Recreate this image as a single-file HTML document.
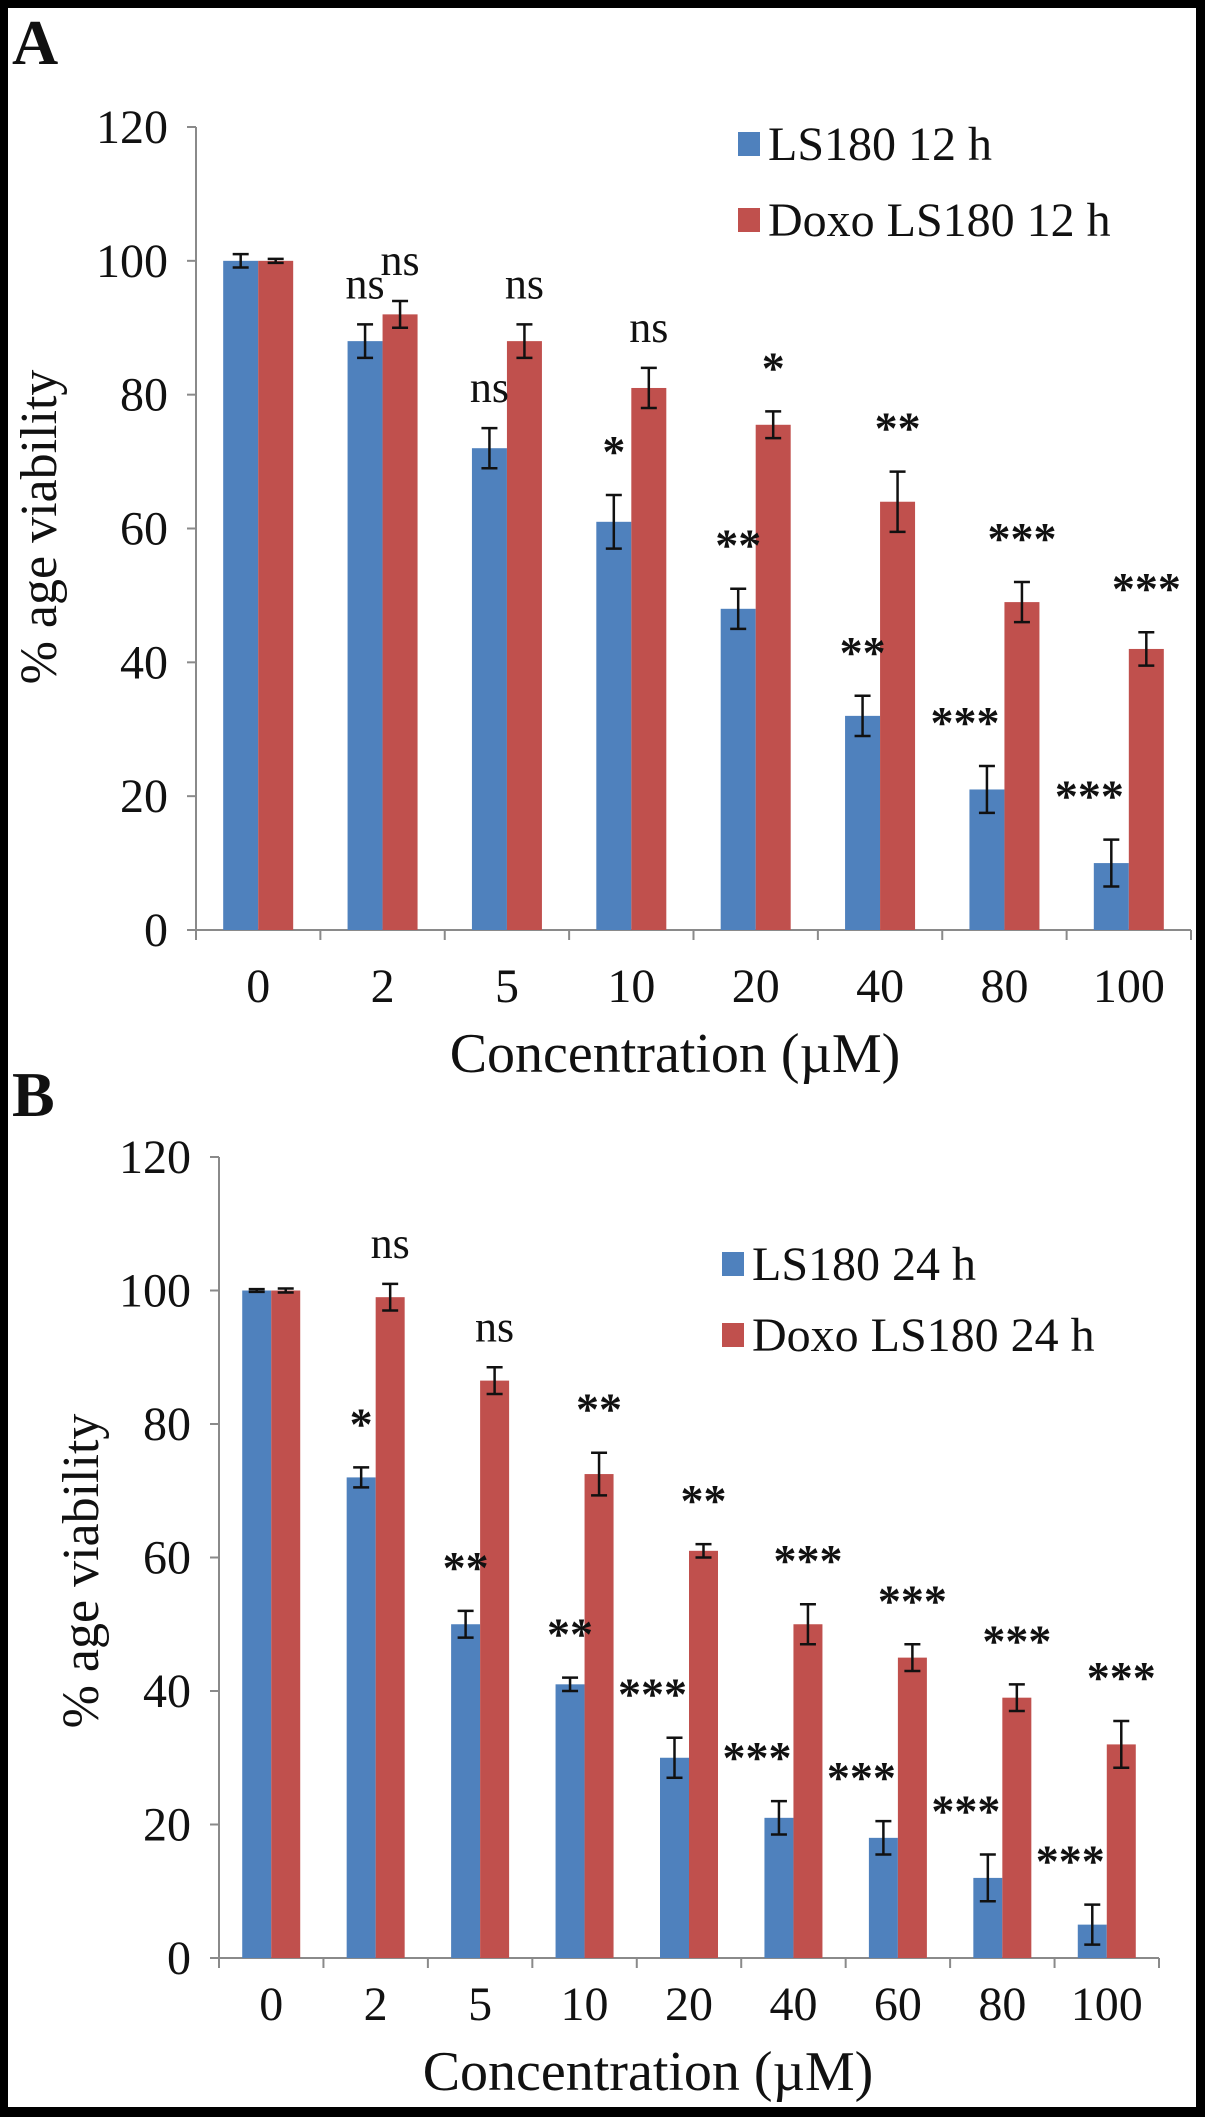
<!DOCTYPE html>
<html><head><meta charset="utf-8"><style>
html,body{margin:0;padding:0;background:#000}
svg{display:block}
text{font-family:"Liberation Serif",serif;fill:#111}
</style></head><body>
<svg id="fig" width="1205" height="2117" viewBox="0 0 1205 2117" xmlns="http://www.w3.org/2000/svg">
<rect x="0" y="0" width="1205" height="2117" fill="#000"/>
<rect x="8" y="8" width="1188" height="2099" fill="#fff"/>
</svg>
<script>
// Panel A data
const catsA = ["0","2","5","10","20","40","80","100"];
const blueA = [100, 88, 72, 61, 48, 32, 21, 10];
const blueErrA = [1, 2.5, 3, 4, 3, 3, 3.5, 3.5];
const redA = [100, 92, 88, 81, 75.5, 64, 49, 42];
const redErrA = [0.3, 2, 2.5, 3, 2, 4.5, 3, 2.5];
const blueSigA = ["", "ns", "ns", "*", "**", "**", "***", "***"];
const redSigA = ["", "ns", "ns", "ns", "*", "**", "***", "***"];
// Panel B data
const catsB = ["0","2","5","10","20","40","60","80","100"];
const blueB = [100, 72, 50, 41, 30, 21, 18, 12, 5];
const blueErrB = [0.2, 1.5, 2, 1, 3, 2.5, 2.5, 3.5, 3];
const redB = [100, 99, 86.5, 72.5, 61, 50, 45, 39, 32];
const redErrB = [0.3, 2, 2, 3.2, 1, 3, 2, 2, 3.5];
const blueSigB = ["", "*", "**", "**", "***", "***", "***", "***", "***"];
const redSigB = ["", "ns", "ns", "**", "**", "***", "***", "***", "***"];
const yTicks = [0, 20, 40, 60, 80, 100, 120];

const NS = "http://www.w3.org/2000/svg";
const svg = document.getElementById('fig');
function mk(tag, attrs, parent) {
  const e = document.createElementNS(NS, tag);
  for (const k in attrs) e.setAttribute(k, attrs[k]);
  (parent || svg).appendChild(e);
  return e;
}

function panel(cfg) {
  const g = mk('g', {});
  
  
  const y = v => cfg.y0 - (v / 120) * (cfg.y0 - cfg.y120);
  const n = cfg.cats.length;
  const cw = (cfg.xr - cfg.xl) / n;
  const xc = i => cfg.xl + i * cw;

  const L = mk('text', {x: 12, y: cfg.letterY, 'font-size': 64, 'font-weight': 'bold', fill: '#000'}, g);
  L.textContent = cfg.letter;
  
  

  const ya = mk('line', {x1: cfg.xl, y1: cfg.y120, x2: cfg.xl, y2: cfg.y0, stroke: '#8a8a8a', 'stroke-width': 2}, g);
  
  
  yTicks.forEach(t => {
    mk('line', {x1: cfg.xl - 9, y1: y(t), x2: cfg.xl, y2: y(t), stroke: '#8a8a8a', 'stroke-width': 2}, g);
    const tl = mk('text', {x: cfg.xl - 28, y: y(t) + 16, 'font-size': 48, 'text-anchor': 'end'}, g);
    tl.textContent = t;
    
    
  });
  const xa = mk('line', {x1: cfg.xl, y1: cfg.y0, x2: cfg.xr, y2: cfg.y0, stroke: '#8a8a8a', 'stroke-width': 2}, g);
  
  
  for (let i = 0; i <= n; i++) mk('line', {x1: xc(i), y1: cfg.y0, x2: xc(i), y2: cfg.y0 + 10, stroke: '#8a8a8a', 'stroke-width': 2}, g);

  const bw = cfg.bw, off = (cw - 2 * bw) / 2;
  cfg.cats.forEach((c, i) => {
    const bx = xc(i) + off, rx = bx + bw;
    const b = mk('rect', {x: bx, y: y(cfg.blue[i]), width: bw, height: cfg.y0 - y(cfg.blue[i]), fill: '#4F81BD'}, g);
    
    
    const r = mk('rect', {x: rx, y: y(cfg.red[i]), width: bw, height: cfg.y0 - y(cfg.red[i]), fill: '#C0504D'}, g);
    
    
    [[bx, cfg.blue[i], cfg.blueErr[i], cfg.blueSig[i], -1], [rx, cfg.red[i], cfg.redErr[i], cfg.redSig[i], 1]].forEach(([x0, v, e, s, side]) => {
      const cx = x0 + bw / 2;
      const eg = mk('g', {stroke: '#111', 'stroke-width': 2.5}, g);
      
      
      mk('line', {x1: cx, y1: y(v + e), x2: cx, y2: y(v - e)}, eg);
      mk('line', {x1: cx - 8, y1: y(v + e), x2: cx + 8, y2: y(v + e)}, eg);
      mk('line', {x1: cx - 8, y1: y(v - e), x2: cx + 8, y2: y(v - e)}, eg);
      if (s) {
        const isNs = s === 'ns';
        const dx = (s === '***' && side < 0) ? -22 : 0;
        const st = mk('text', {x: cx + dx, y: y(v + e) - (isNs ? 26 : 28), 'font-size': isNs ? 44 : 46, 'text-anchor': 'middle', 'font-weight': isNs ? 'normal' : 'bold'}, g);
        st.textContent = s;
        
        
      }
    });
    const xl = mk('text', {x: xc(i) + cw / 2, y: cfg.tickBase, 'font-size': 48, 'text-anchor': 'middle'}, g);
    xl.textContent = c;
    
    
  });

  const xt = mk('text', {x: cfg.xTitleX, y: cfg.xTitleY, 'font-size': 56, 'text-anchor': 'middle'}, g);
  xt.textContent = 'Concentration  (\u00B5M)';
  xt.setAttribute('xml:space', 'preserve');
  
  
  const yt = mk('text', {x: 0, y: 0, 'font-size': 52, 'text-anchor': 'middle', transform: 'translate(' + cfg.yTitleX + ',' + cfg.yTitleY + ') rotate(-90)'}, g);
  yt.textContent = '%  age viability';
  yt.setAttribute('xml:space', 'preserve');
  
  

  [[cfg.blueLabel, '#4F81BD', cfg.leg1Y], [cfg.redLabel, '#C0504D', cfg.leg2Y]].forEach(([lab, col, ly]) => {
    const lg = mk('g', {}, g);
    
    
    mk('rect', {x: cfg.legX, y: ly - 12, width: 22, height: 24, fill: col}, lg);
    const t = mk('text', {x: cfg.legX + 30, y: ly + 16, 'font-size': 48}, lg);
    t.textContent = lab;
  });
}

panel({name: 'panel-a-chart', letter: 'A', letterY: 64, cats: catsA, blue: blueA, blueErr: blueErrA, red: redA, redErr: redErrA,
  blueSig: blueSigA, redSig: redSigA, blueKey: 'ls180-12h', redKey: 'doxo-ls180-12h',
  xl: 196, xr: 1191, y0: 930, y120: 127, bw: 35, tickBase: 1002, xTitleX: 675, xTitleY: 1072, yTitleX: 56, yTitleY: 527,
  legX: 738, leg1Y: 144, leg2Y: 220, blueLabel: 'LS180 12 h', redLabel: 'Doxo LS180 12 h'});
panel({name: 'panel-b-chart', letter: 'B', letterY: 1116, cats: catsB, blue: blueB, blueErr: blueErrB, red: redB, redErr: redErrB,
  blueSig: blueSigB, redSig: redSigB, blueKey: 'ls180-24h', redKey: 'doxo-ls180-24h',
  xl: 219, xr: 1159, y0: 1958, y120: 1157, bw: 29, tickBase: 2020, xTitleX: 648, xTitleY: 2090, yTitleX: 98, yTitleY: 1571,
  legX: 722, leg1Y: 1264, leg2Y: 1335, blueLabel: 'LS180 24 h', redLabel: 'Doxo LS180 24 h'});
</script>
</body></html>
